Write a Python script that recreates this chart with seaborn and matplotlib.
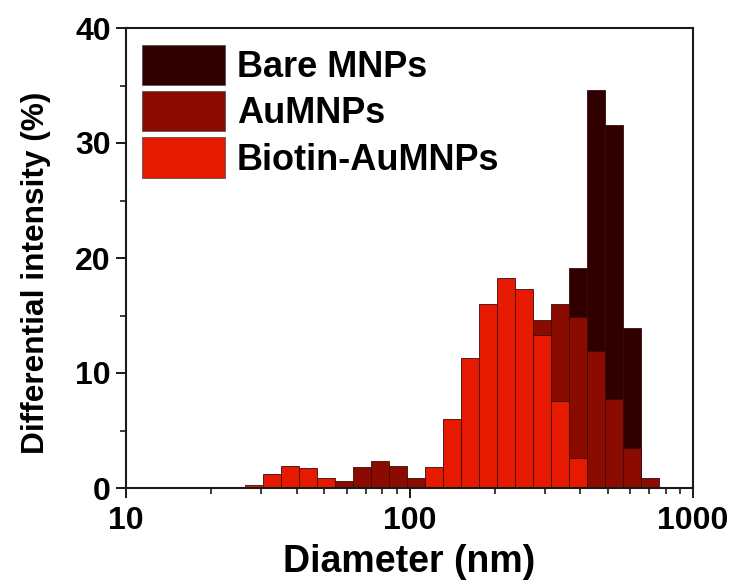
import numpy as np
import matplotlib
matplotlib.use("Agg")
import matplotlib.pyplot as plt
import matplotlib.ticker as mticker
from matplotlib.patches import Patch
import seaborn as sns

# ---- data ----
diameter_nm = [28.2, 32.7, 37.8, 43.8, 50.7, 58.7, 68.0, 78.7, 91.1, 105.4,
               122.1, 141.3, 163.6, 189.3, 219.2, 253.7, 293.7, 340.0, 393.6,
               455.6, 527.5, 610.6, 706.8]
bare_mnps = [0, 0, 0, 0, 0, 0, 0, 0, 0, 0, 0, 0, 0, 0, 0, 0, 0, 0,
             19.1, 34.6, 31.6, 13.9, 0]
au_mnps = [0, 0, 0, 0, 0, 0.6, 1.8, 2.35, 1.9, 0.9, 0.5, 1.5, 2.5, 4.0, 6.0,
           8.0, 14.6, 16.0, 14.9, 11.9, 7.7, 3.5, 0.9]
biotin_aumnps = [0.3, 1.25, 1.9, 1.75, 0.9, 0, 0, 0, 0, 0, 1.85, 6.0, 11.3,
                 16.0, 18.3, 17.3, 13.3, 7.6, 2.6, 0, 0, 0, 0]
series_names = ["Bare MNPs", "AuMNPs", "Biotin-AuMNPs"]
series_colors = ["#300000", "#8c0b00", "#e51a00"]
x_ticks = [10, 100, 1000]
y_ticks = [0, 10, 20, 30, 40]

sns.set_theme(style="ticks")
plt.rcParams["font.family"] = ["Liberation Sans", "DejaVu Sans"]
plt.rcParams["font.weight"] = "bold"
for k in ["text.color", "axes.labelcolor", "xtick.color", "ytick.color",
          "axes.edgecolor"]:
    plt.rcParams[k] = "black"

fig = plt.figure(figsize=(7.34, 5.85), dpi=100)
ax = fig.add_axes([126 / 734, 97 / 585, 567 / 734, 460 / 585])

logc = np.log10(diameter_nm)
step = float(np.mean(np.diff(logc)))
edges = [float(v) for v in np.r_[logc - step / 2, logc[-1] + step / 2]]

for vals, col in zip([bare_mnps, au_mnps, biotin_aumnps], series_colors):
    sns.histplot(x=diameter_nm, weights=vals, bins=edges, log_scale=True,
                 stat="count", color=col, alpha=1, element="bars", fill=True,
                 edgecolor="#3a0a0a", linewidth=0.6, ax=ax)

ax.set_xlim(10, 1000)
ax.set_ylim(0, 40)
ax.set_xticks(x_ticks)
ax.xaxis.set_major_formatter(mticker.FixedFormatter([str(t) for t in x_ticks]))
ax.xaxis.set_minor_locator(mticker.LogLocator(base=10, subs=np.arange(2, 10)))
ax.xaxis.set_minor_formatter(mticker.NullFormatter())
ax.set_yticks(y_ticks)
ax.yaxis.set_minor_locator(mticker.MultipleLocator(5))

for s in ax.spines.values():
    s.set_linewidth(1.5)
    s.set_color("#1a1a1a")
ax.tick_params(axis="both", which="major", labelsize=23, width=1.4, length=7,
               direction="out", color="#1a1a1a", labelcolor="black")
ax.tick_params(axis="x", which="major", pad=6)
ax.tick_params(axis="y", which="major", pad=4)
ax.tick_params(axis="both", which="minor", width=1.2, length=4,
               direction="out", color="#1a1a1a")
ax.tick_params(top=False, right=False, which="both")
for lab in ax.get_xticklabels() + ax.get_yticklabels():
    lab.set_fontweight("bold")

ax.set_xlabel("Diameter (nm)", fontsize=27, fontweight="bold", labelpad=6)
ax.set_ylabel("Differential intensity (%)", fontsize=22.8, fontweight="bold")
ax.yaxis.set_label_coords(-0.132, 0.467)

handles = [Patch(facecolor=c, edgecolor="#555555", linewidth=0.6) for c in series_colors]
ax.legend(handles, series_names, loc="upper left",
          bbox_to_anchor=(16 / 567, 1 - 17 / 460), frameon=False,
          borderaxespad=0, borderpad=0, handlelength=2.3, handleheight=1.33,
          handletextpad=0.33, labelspacing=0.17,
          prop={"size": 26, "weight": "bold"})

fig.savefig("out.png", dpi=100)
